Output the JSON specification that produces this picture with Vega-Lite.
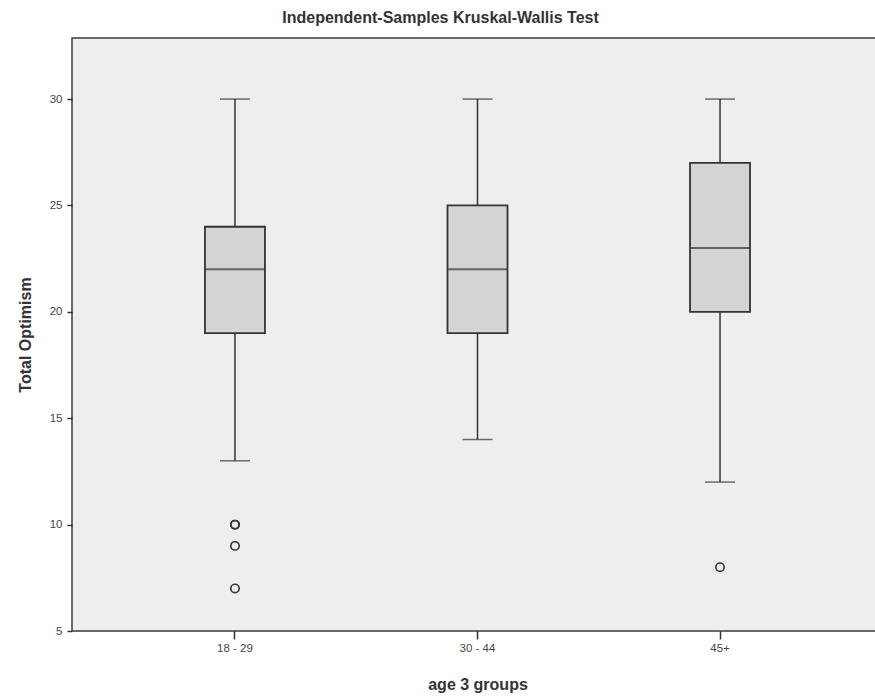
{
  "$schema": "https://vega.github.io/schema/vega-lite/v6.json",
  "autosize": "none",
  "width": 811,
  "height": 593,
  "padding": {"left": 72, "top": 38, "right": 0, "bottom": 65},
  "background": "white",
  "config": {
    "font": "Liberation Sans",
    "view": {"fill": "#eeeeee", "stroke": "#3a3a3a", "strokeWidth": 1.5},
    "axis": {"grid": false, "domainColor": "#333333", "domainWidth": 1.5, "tickColor": "#333333", "tickWidth": 1.5, "labelColor": "#444444", "labelFont": "Liberation Sans", "labelFontSize": 11.5, "titleFont": "Liberation Sans", "titleFontSize": 16, "titleFontWeight": "bold", "titleColor": "#333333"}
  },
  "title": {"text": "Independent-Samples Kruskal-Wallis Test", "fontSize": 16, "fontWeight": "bold", "color": "#333333", "font": "Liberation Sans", "anchor": "middle", "dx": -37, "offset": 12},
  "datasets": {
    "boxes": [
      {"group": "18 - 29", "lower": 13, "q1": 19, "median": 22, "q3": 24, "upper": 30},
      {"group": "30 - 44", "lower": 14, "q1": 19, "median": 22, "q3": 25, "upper": 30},
      {"group": "45+", "lower": 12, "q1": 20, "median": 23, "q3": 27, "upper": 30}
    ],
    "outliers": [
      {"group": "18 - 29", "value": 10},
      {"group": "18 - 29", "value": 10},
      {"group": "18 - 29", "value": 9},
      {"group": "18 - 29", "value": 7},
      {"group": "45+", "value": 8}
    ]
  },
  "encoding": {
    "x": {"field": "group", "type": "nominal", "sort": ["18 - 29", "30 - 44", "45+"],
      "scale": {"type": "band", "paddingInner": 0, "paddingOuter": 0.172},
      "axis": {"title": "age 3 groups", "labelAngle": 0, "tickSize": 8, "labelPadding": 3, "titlePadding": 23, "domain": false}}
  },
  "layer": [
    {"data": {"name": "boxes"}, "mark": {"type": "rule", "color": "#333333", "strokeWidth": 1.5},
      "encoding": {
        "y": {"field": "lower", "type": "quantitative", "scale": {"domain": [5, 32.87], "nice": false, "zero": false},
          "axis": {"title": "Total Optimism", "values": [5, 10, 15, 20, 25, 30], "tickSize": 5, "labelPadding": 5, "titlePadding": 16, "domain": false}},
        "y2": {"field": "upper"}
      }},
    {"data": {"name": "boxes"}, "mark": {"type": "bar", "size": 60, "fill": "#d4d4d4", "stroke": "#333333", "strokeWidth": 1.8},
      "encoding": {"y": {"field": "q1", "type": "quantitative"}, "y2": {"field": "q3"}}},
    {"data": {"name": "boxes"}, "mark": {"type": "tick", "size": 60, "thickness": 2, "color": "#333333"},
      "encoding": {"y": {"field": "median", "type": "quantitative"}}},
    {"data": {"name": "boxes"}, "mark": {"type": "tick", "size": 30, "thickness": 1.5, "color": "#333333"},
      "encoding": {"y": {"field": "upper", "type": "quantitative"}}},
    {"data": {"name": "boxes"}, "mark": {"type": "tick", "size": 30, "thickness": 1.5, "color": "#333333"},
      "encoding": {"y": {"field": "lower", "type": "quantitative"}}},
    {"data": {"name": "outliers"}, "mark": {"type": "point", "shape": "circle", "size": 70, "filled": false, "stroke": "#333333", "strokeWidth": 1.6, "opacity": 1},
      "encoding": {"y": {"field": "value", "type": "quantitative"}}}
  ]
}
